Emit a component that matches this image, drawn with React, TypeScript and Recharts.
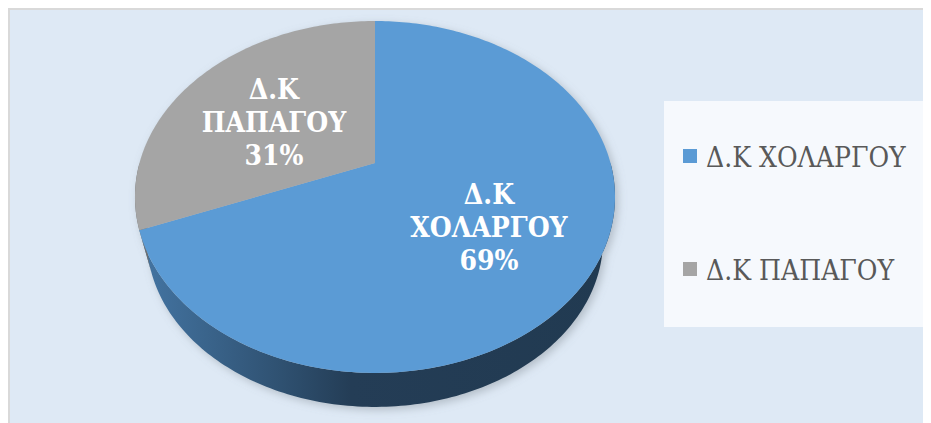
import React from 'react';
import { PieChart, Pie, Cell, Legend } from 'recharts';

// municipal districts and their share (%)
const districts = ['Δ.Κ ΧΟΛΑΡΓΟΥ', 'Δ.Κ ΠΑΠΑΓΟΥ'];
const shares = [69, 31];
const colors = ['#5b9bd5', '#a5a5a5'];
const sideColors = ['url(#blueSide)', '#6f6f6f'];

const data = districts.map((name, i) => ({ name, value: shares[i] }));

// Liberation Serif has no Greek in this setup, DejaVu Serif Condensed is the closest serif
const SERIF = "'DejaVu Serif Condensed', 'DejaVu Serif', serif";

// fake 3D: perspective-projected disc
const RX = 235.5;
const RY = 169.4;
const TILT = 0.193;
const DEPTH = 44.5;
const BOTTOM_SCALE = 0.95;

const proj = (cx: number, cy: number, deg: number, f = 1): [number, number] => {
  const t = (deg * Math.PI) / 180;
  const u = f * Math.cos(t);
  const v = f * Math.sin(t);
  const w = 1 + TILT * v;
  return [cx + (RX * u) / w, cy - (RY * v) / w];
};

// bottom=true gives the lower rim (further from the eye, so a bit smaller)
const arcPoints = (cx: number, cy: number, a: number, b: number, bottom = false) => {
  const n = Math.max(2, Math.ceil(Math.abs(b - a)) + 1);
  const pts: string[] = [];
  for (let i = 0; i < n; i++) {
    let [x, y] = proj(cx, cy, a + ((b - a) * i) / (n - 1));
    if (bottom) {
      x = cx + (x - cx) * BOTTOM_SCALE;
      y = cy + (y - cy) * BOTTOM_SCALE + DEPTH;
    }
    pts.push(`${x.toFixed(2)},${y.toFixed(2)}`);
  }
  return pts;
};

const renderSide = (props: any) => {
  const { cx, cy, startAngle, endAngle, index } = props;
  let lo = Math.min(startAngle, endAngle);
  let hi = Math.max(startAngle, endAngle);
  while (lo < 0) {
    lo += 360;
    hi += 360;
  }
  const a = Math.max(lo, 180);
  const b = Math.min(hi, 360);
  const outline = `M${arcPoints(cx, cy, 0, 360).join(' L')} Z M${arcPoints(cx, cy, 0, 360, true).join(' L')} Z`;
  return (
    <g>
      {index === 0 && (
        <>
          <defs>
            <linearGradient id="blueSide" gradientUnits="userSpaceOnUse" x1={cx - RX} y1="0" x2={cx + RX} y2="0">
              <stop offset="0" stopColor="#4475a3" />
              <stop offset="0.3" stopColor="#2f5171" />
              <stop offset="0.45" stopColor="#243d56" />
              <stop offset="1" stopColor="#213a51" />
            </linearGradient>
            <filter id="pieShadow" x="-20%" y="-20%" width="140%" height="140%">
              <feGaussianBlur stdDeviation="4" />
            </filter>
          </defs>
          <path d={outline} fill="#7f8790" fillOpacity={0.45} transform="translate(3,3)" filter="url(#pieShadow)" />
        </>
      )}
      {b > a && (
        <path
          d={`M${arcPoints(cx, cy, a, b).join(' L')} L${arcPoints(cx, cy, b, a, true).join(' L')} Z`}
          fill={sideColors[index]}
        />
      )}
    </g>
  );
};

const renderFace = (props: any) => {
  const { cx, cy, startAngle, endAngle, midAngle, percent, index, name } = props;
  const face = `M${cx},${cy} L${arcPoints(cx, cy, startAngle, endAngle).join(' L')} Z`;
  const [lx, ly0] = proj(cx, cy, midAngle, 0.55);
  const ly = ly0 + 8;
  const lines = [...name.split(' '), `${Math.round(percent * 100)}%`];
  return (
    <g>
      <path d={face} fill={colors[index]} />
      <text x={lx} textAnchor="middle" fill="#ffffff" style={{ fontFamily: SERIF, fontWeight: 700, fontSize: 28 }}>
        {lines.map((line: string, i: number) => (
          <tspan key={i} x={lx} y={ly + 10 + (i - 1) * 33}>
            {line}
          </tspan>
        ))}
      </text>
    </g>
  );
};

const renderLegend = () => (
  <svg width={267} height={226} style={{ display: 'block' }}>
    <rect x={0} y={0} width={267} height={226} fill="#f6f9fd" />
    {districts.map((name, i) => (
      <g key={name}>
        <rect x={19} y={48 + i * 113} width={14} height={14} fill={colors[i]} />
        <text x={42} y={66 + i * 113} fill="#595959" style={{ fontFamily: SERIF, fontSize: 28 }}>
          {name}
        </text>
      </g>
    ))}
  </svg>
);

export default function App() {
  return (
    <div
      style={{
        width: 923,
        height: 415,
        boxSizing: 'border-box',
        background: '#dee9f5',
        borderTop: '2px solid #d9d9d9',
        borderLeft: '2px solid #d9d9d9',
        overflow: 'hidden',
      }}
    >
      <PieChart width={921} height={413} margin={{ top: 0, right: 0, bottom: 0, left: 0 }}>
        {/* rim of the disc */}
        <Pie
          data={data}
          dataKey="value"
          nameKey="name"
          cx={365}
          cy={153}
          outerRadius={RX}
          startAngle={90}
          endAngle={-270}
          stroke="none"
          label={renderSide}
          labelLine={false}
          isAnimationActive={false}
        >
          {data.map((d) => (
            <Cell key={d.name} fill="transparent" />
          ))}
        </Pie>
        {/* top face + labels */}
        <Pie
          data={data}
          dataKey="value"
          nameKey="name"
          cx={365}
          cy={153}
          outerRadius={RX}
          startAngle={90}
          endAngle={-270}
          stroke="none"
          label={renderFace}
          labelLine={false}
          isAnimationActive={false}
        >
          {data.map((d) => (
            <Cell key={d.name} fill="transparent" />
          ))}
        </Pie>
        <Legend
          layout="vertical"
          align="right"
          verticalAlign="middle"
          content={renderLegend}
          wrapperStyle={{ left: 654, top: 91, width: 267, height: 226, right: 'auto', bottom: 'auto' }}
        />
      </PieChart>
    </div>
  );
}
